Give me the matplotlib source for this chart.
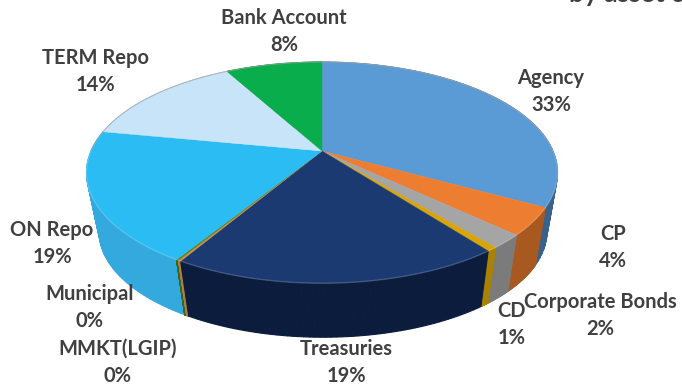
import matplotlib
matplotlib.use("Agg")
import matplotlib.pyplot as plt
import numpy as np

# Portfolio share per asset class, clockwise from 12 o'clock
names = ['Agency', 'CP', 'Corporate Bonds', 'CD', 'Treasuries', 'Municipal',
         'MMKT(LGIP)', 'ON Repo', 'TERM Repo', 'Bank Account']
values = [33, 4, 2, 0.6, 18.9, 0.15, 0.15, 19.2, 14, 8]

top_colors = ['#5b9bd5', '#ed7d31', '#a5a5a5', '#d9a406', '#1b3a72', '#d98a4a',
              '#4f8a2a', '#2bbcf4', '#c8e4f8', '#0aad4b']
side_colors = ['#38618c', '#a8591f', '#7b7b7b', '#a98204', '#0c1c3d', '#b57a3e',
               '#2f6a22', '#33a9de', '#8fb6cf', '#07803a']

# label centres in pixels: name line, then percent line below it
label_x = [551, 613, 600, 512, 346, 90, 118, 52, 95, 284]
label_y = [78, 234, 302, 311, 349, 294, 349, 230, 58, 18]
line_gap = 27

# pie drawn in perspective: tilt factor and radii of the top disc
cx, cy = 322, 151
rx, ry, k = 231, 106.4, 0.1954
depth, base_scale = 60.6, 0.95


def top_xy(theta):
    u, v = np.cos(theta), np.sin(theta)
    w = 1 + k * v
    return rx * u / w, -ry * v / w


def rim(theta):
    x, y = top_xy(theta)
    return cx + x, cy + y


def base(theta):
    x, y = top_xy(theta)
    return cx + base_scale * x + 1, cy + depth + base_scale * y


fig = plt.figure(figsize=(6.82, 3.85), dpi=100)
ax = fig.add_axes([0, 0, 1, 1])
ax.set_xlim(0, 682)
ax.set_ylim(385, 0)
ax.axis('off')

fractions = np.array(values) / sum(values)
edges = np.pi / 2 - 2 * np.pi * np.concatenate([[0], np.cumsum(fractions)])
arcs = [np.linspace(edges[i], edges[i + 1], 60) for i in range(len(values))]

# side walls first, back ones before front ones; small quads so the
# silhouette stays closed where the two rims cross
order = np.argsort([-np.sin(a.mean()) for a in arcs])
for i in order:
    x1, y1 = rim(arcs[i])
    x2, y2 = base(arcs[i])
    for j in range(len(x1) - 1):
        ax.fill([x1[j], x1[j + 1], x2[j + 1], x2[j]],
                [y1[j], y1[j + 1], y2[j + 1], y2[j]],
                color=side_colors[i], lw=0.8, zorder=2)

# top faces
for i, a in enumerate(arcs):
    x, y = rim(a)
    ax.fill(np.r_[cx, x], np.r_[cy, y], color=top_colors[i], lw=0.3, zorder=3)

# soft highlight along the front rim, thin grey edge along the back
t = np.linspace(np.pi, 2 * np.pi, 300)
ax.plot(*rim(t), color='white', alpha=0.18, lw=1.0, zorder=4)
t = np.linspace(0, np.pi, 300)
ax.plot(*rim(t), color='#a8a8a8', alpha=0.7, lw=0.7, zorder=4)

for name, val, x, y in zip(names, values, label_x, label_y):
    ax.text(x, y, name, ha='center', va='center', fontsize=14.5,
            fontweight='bold', family='Lato', color='#404040', zorder=5)
    ax.text(x, y + line_gap, f'{val:.0f}%', ha='center', va='center', fontsize=14.5,
            fontweight='bold', family='Lato', color='#404040', zorder=5)

# second line of the heading, cut off by the top edge
ax.text(569, 2.5, 'by asset class', ha='left', va='baseline', fontsize=19,
        fontweight='bold', family='Lato', color='#404040', clip_on=True)

plt.savefig('out.png', dpi=100)
